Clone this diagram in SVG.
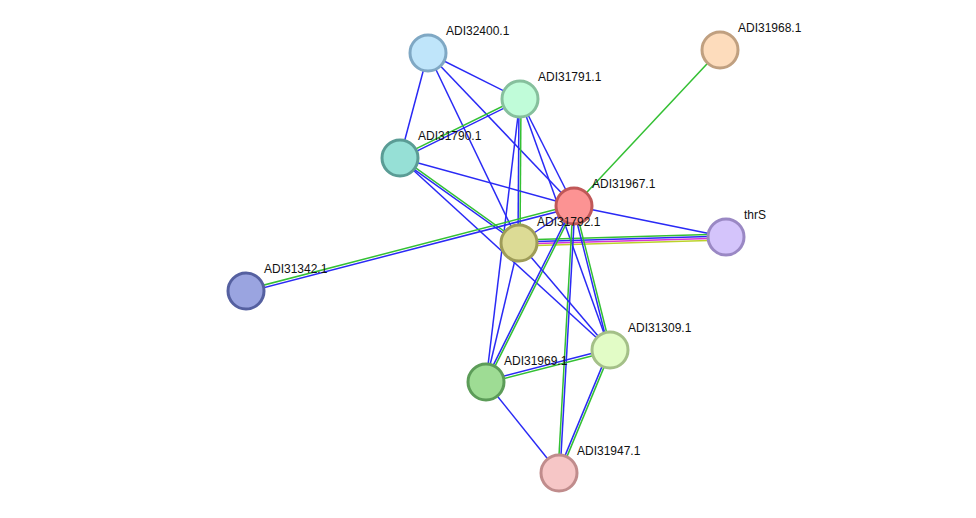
<svg xmlns="http://www.w3.org/2000/svg" width="976" height="518" viewBox="0 0 976 518">
<style>
line{stroke-width:1.5}
.b{stroke:#2a2af5}.g{stroke:#33c033}.m{stroke:#d633d6}.y{stroke:#bcd22a}
circle{stroke-width:3}
text{font-family:"Liberation Sans",Arial,sans-serif;font-size:12px;fill:#111}
</style>
<rect width="976" height="518" fill="#fff"/>
<g id="edges">
<line class="b" x1="428" y1="53" x2="520" y2="99"/>
<line class="b" x1="428" y1="53" x2="400" y2="158"/>
<line class="b" x1="428" y1="53" x2="574" y2="206"/>
<line class="b" x1="428" y1="53" x2="519" y2="243"/>
<line class="g" x1="519.5" y1="97.9" x2="399.5" y2="156.9"/>
<line class="b" x1="520.5" y1="100.1" x2="400.5" y2="159.1"/>
<line class="b" x1="519" y1="99" x2="518" y2="243"/>
<line class="g" x1="521" y1="99" x2="520" y2="243"/>
<line class="b" x1="520" y1="99" x2="574" y2="206"/>
<line class="b" x1="520" y1="99" x2="610" y2="350"/>
<line class="b" x1="520" y1="99" x2="486" y2="382"/>
<line class="g" x1="720" y1="50" x2="574" y2="206"/>
<line class="b" x1="400" y1="158" x2="574" y2="206"/>
<line class="g" x1="400.6" y1="157.2" x2="519.6" y2="242.2"/>
<line class="b" x1="399.4" y1="158.8" x2="518.4" y2="243.8"/>
<line class="b" x1="400" y1="158" x2="610" y2="350"/>
<line class="g" x1="245.7" y1="289.8" x2="573.7" y2="204.8"/>
<line class="b" x1="246.3" y1="292.2" x2="574.3" y2="207.2"/>
<line class="b" x1="574" y1="206" x2="726" y2="237"/>
<line class="g" x1="519" y1="240" x2="726" y2="234"/>
<line class="b" x1="519" y1="242" x2="726" y2="236"/>
<line class="m" x1="519" y1="244" x2="726" y2="238"/>
<line class="y" x1="519" y1="246" x2="726" y2="240"/>
<line class="b" x1="574" y1="206" x2="519" y2="243"/>
<line class="b" x1="573.1" y1="205.55" x2="485.1" y2="381.55"/>
<line class="g" x1="574.9" y1="206.45" x2="486.9" y2="382.45"/>
<line class="g" x1="573" y1="206" x2="558" y2="473"/>
<line class="b" x1="575" y1="206" x2="560" y2="473"/>
<line class="b" x1="573" y1="206.25" x2="609" y2="350.25"/>
<line class="g" x1="575" y1="205.75" x2="611" y2="349.75"/>
<line class="b" x1="519" y1="243" x2="486" y2="382"/>
<line class="b" x1="519" y1="243" x2="610" y2="350"/>
<line class="b" x1="485.7" y1="380.8" x2="609.7" y2="348.8"/>
<line class="g" x1="486.3" y1="383.2" x2="610.3" y2="351.2"/>
<line class="b" x1="486" y1="382" x2="559" y2="473"/>
<line class="b" x1="609" y1="349.6" x2="558" y2="472.6"/>
<line class="g" x1="611" y1="350.4" x2="560" y2="473.4"/>
</g>
<g id="ADI32400.1"><circle cx="428" cy="53" r="18" fill="#bfe5fa" stroke="#7fa8c4"/><text x="446" y="35">ADI32400.1</text></g>
<g id="ADI31791.1"><circle cx="520" cy="99" r="18" fill="#c0fcd9" stroke="#86c09d"/><text x="538" y="81">ADI31791.1</text></g>
<g id="ADI31968.1"><circle cx="720" cy="50" r="18" fill="#fddcbc" stroke="#c0a080"/><text x="738" y="32">ADI31968.1</text></g>
<g id="ADI31790.1"><circle cx="400" cy="158" r="18" fill="#96e0d6" stroke="#5a9c95"/><text x="418" y="140">ADI31790.1</text></g>
<g id="ADI31967.1"><circle cx="574" cy="206" r="18" fill="#fc9393" stroke="#c05858"/><text x="592" y="188">ADI31967.1</text></g>
<g id="ADI31792.1"><circle cx="519" cy="243" r="18" fill="#dcdb95" stroke="#9e9c58"/><text x="537" y="226">ADI31792.1</text></g>
<g id="thrS"><circle cx="726" cy="237" r="18" fill="#d4c4fb" stroke="#9a88c4"/><text x="744" y="219">thrS</text></g>
<g id="ADI31342.1"><circle cx="246" cy="291" r="18" fill="#9aa4e0" stroke="#5560a0"/><text x="264" y="273">ADI31342.1</text></g>
<g id="ADI31309.1"><circle cx="610" cy="350" r="18" fill="#e2fcc6" stroke="#a4c088"/><text x="628" y="332">ADI31309.1</text></g>
<g id="ADI31969.1"><circle cx="486" cy="382" r="18" fill="#9edc94" stroke="#5c9c58"/><text x="504" y="365">ADI31969.1</text></g>
<g id="ADI31947.1"><circle cx="559" cy="473" r="18" fill="#f6c6c6" stroke="#c08c8c"/><text x="577" y="455">ADI31947.1</text></g>
</svg>
